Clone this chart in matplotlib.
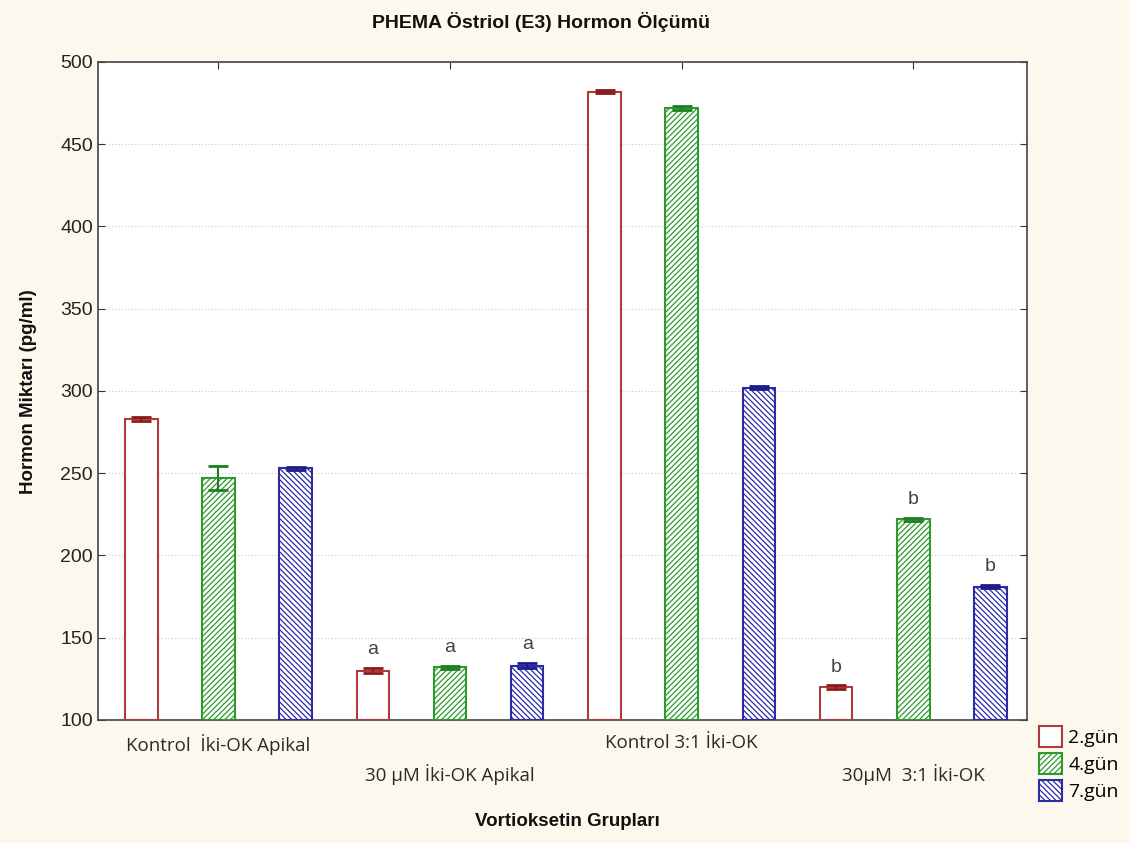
import matplotlib
matplotlib.use("Agg")
import matplotlib.pyplot as plt
import matplotlib.patches as mpatches
import matplotlib.transforms as mtransforms
import numpy as np

groups = ["Kontrol  İki-OK Apikal", "30 µM İki-OK Apikal", "Kontrol 3:1 İki-OK", "30µM  3:1 İki-OK"]
days = ["2.gün", "4.gün", "7.gün"]

gun2 = [283, 130, 482, 120]
gun4 = [247, 132, 472, 222]
gun7 = [253, 133, 302, 181]

err2 = [1, 1.5, 1, 1]
err4 = [7.5, 1, 1, 1]
err7 = [1, 1.5, 1, 1]

letters2 = ["", "a", "", "b"]
letters4 = ["", "a", "", "b"]
letters7 = ["", "a", "", "b"]

yticks = [100, 150, 200, 250, 300, 350, 400, 450, 500]

BG = "#fdf8ed"
edge_colors = ["#b03a3a", "#2e9a2e", "#2b2ba6"]
cap_colors = ["#8b1a1a", "#1f7f1f", "#1c1c8c"]
hatches = [None, "//////", "\\\\\\\\\\\\"]

SANS = ["Liberation Sans", "DejaVu Sans"]
LABEL = ["Open Sans", "DejaVu Sans"]

fig = plt.figure(figsize=(11.3, 8.43), dpi=100, facecolor=BG)
ax = fig.add_axes([0.0867, 0.146, 0.822, 0.7805])
ax.set_facecolor("white")

x = np.arange(len(groups))
offset = 0.333
width = 0.14
plt.rcParams["hatch.linewidth"] = 0.9

series = [gun2, gun4, gun7]
errs = [err2, err4, err7]
letters = [letters2, letters4, letters7]
for i, (vals, e) in enumerate(zip(series, errs)):
    pos = x + (i - 1) * offset
    plt.rcParams["hatch.color"] = edge_colors[i]
    ax.bar(pos, np.array(vals) - 100, width, bottom=100, facecolor="white",
           edgecolor=edge_colors[i], linewidth=1.5, hatch=hatches[i], zorder=3)
    ax.errorbar(pos, vals, yerr=e, fmt="none", ecolor=cap_colors[i],
                elinewidth=1.5, capsize=7, capthick=2, zorder=4)
    for p, v, err, lab in zip(pos, vals, e, letters[i]):
        if lab:
            ax.text(p, v + err + 6, lab, ha="center", va="bottom",
                    fontsize=14, color="#444444", family=SANS)

ax.set_xlim(-0.52, 3.49)
ax.set_ylim(100, 500)
ax.set_yticks(yticks)
ax.set_yticklabels([str(t) for t in yticks], family=SANS, fontsize=14, color="#222222")
ax.set_xticks(x)
ax.set_xticklabels([])
ax.yaxis.grid(True, linestyle=(0, (1, 2)), color="#c8c8c8", linewidth=0.8, zorder=0)
ax.tick_params(direction="in", top=True, right=True, length=5, color="#333333")
for s in ax.spines.values():
    s.set_color("#444444")
    s.set_linewidth(1.2)

# group labels alternate between two rows under the axis
trans = mtransforms.blended_transform_factory(ax.transData, ax.transAxes)
for i, g in enumerate(groups):
    y = -0.022 if i % 2 == 0 else -0.067
    ax.text(x[i], y, g, transform=trans, ha="center", va="top",
            fontsize=13.5, color="#2a2a2a", family=LABEL)

fig.text(0.479, 0.974, "PHEMA Östriol (E3) Hormon Ölçümü", ha="center", va="center",
         fontsize=14, fontweight="bold", family=SANS, color="#111111")
fig.text(0.025, 0.535, "Hormon Miktarı (pg/ml)", rotation=90, ha="center", va="center",
         fontsize=13.5, fontweight="bold", family=SANS, color="#111111")
fig.text(0.502, 0.025, "Vortioksetin Grupları", ha="center", va="center",
         fontsize=13.5, fontweight="bold", family=SANS, color="#111111")

handles = []
for i, d in enumerate(days):
    plt.rcParams["hatch.color"] = edge_colors[i]
    handles.append(mpatches.Patch(facecolor="white", edgecolor=edge_colors[i],
                                  hatch=hatches[i], linewidth=1.5, label=d))
fig.legend(handles=handles, loc="upper left", bbox_to_anchor=(0.904, 0.16),
           frameon=False, handlelength=1.2, handleheight=1.3,
           handletextpad=0.3, labelspacing=0.3, prop={"family": LABEL, "size": 14})

fig.savefig("out.png", dpi=100, facecolor=BG)
